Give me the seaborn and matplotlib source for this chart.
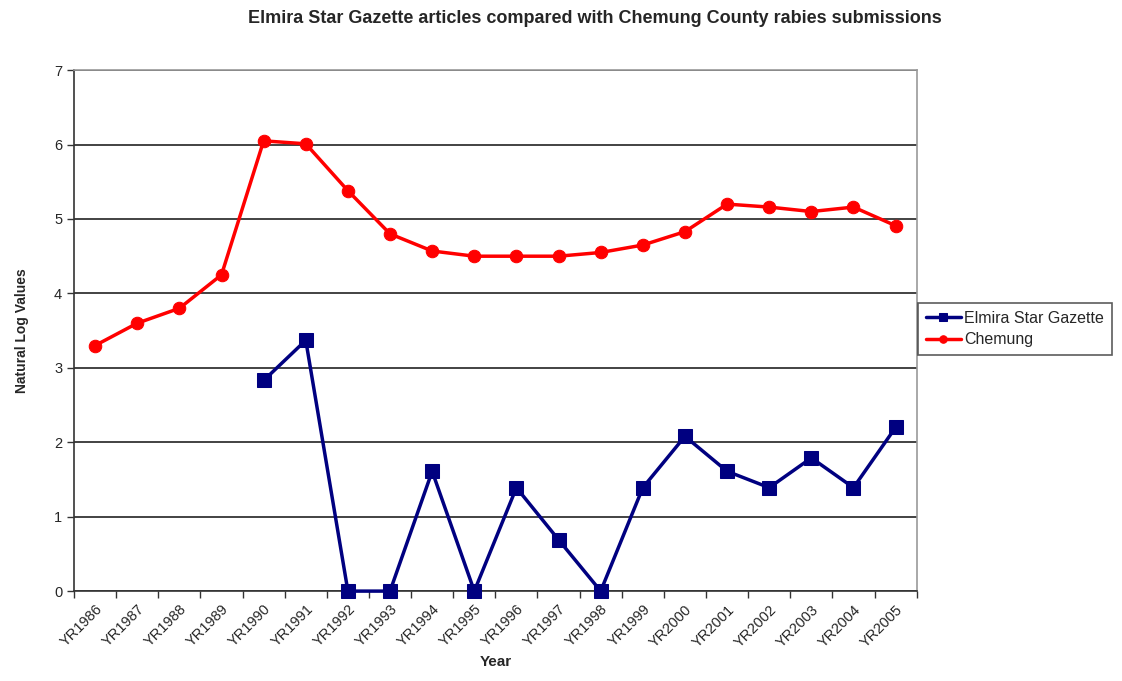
import numpy as np
import pandas as pd
import matplotlib
matplotlib.use('Agg')
import matplotlib.pyplot as plt
import seaborn as sns

# data
years = ['YR1986', 'YR1987', 'YR1988', 'YR1989', 'YR1990', 'YR1991', 'YR1992',
         'YR1993', 'YR1994', 'YR1995', 'YR1996', 'YR1997', 'YR1998', 'YR1999',
         'YR2000', 'YR2001', 'YR2002', 'YR2003', 'YR2004', 'YR2005']
elmira = [np.nan, np.nan, np.nan, np.nan, 2.83, 3.37, 0.0, 0.0, 1.61, 0.0,
          1.39, 0.69, 0.0, 1.39, 2.08, 1.61, 1.39, 1.79, 1.39, 2.20]
chemung = [3.30, 3.60, 3.80, 4.25, 6.05, 6.01, 5.38, 4.80, 4.57, 4.50,
           4.50, 4.50, 4.55, 4.65, 4.83, 5.20, 5.16, 5.10, 5.16, 4.91]

sns.set_style('white')
plt.rcParams['font.family'] = ['Liberation Sans', 'DejaVu Sans']

df = pd.DataFrame({'pos': np.arange(len(years)), 'Year': years,
                   'Elmira Star Gazette': elmira, 'Chemung': chemung})

fig = plt.figure(figsize=(11.22, 6.81), dpi=100)
ax = fig.add_axes([0.066, 0.132, 0.751, 0.765])

sns.lineplot(data=df, x='pos', y='Elmira Star Gazette', ax=ax, color='#000080',
             marker='s', markersize=10, linewidth=2.5, markeredgecolor='#000080',
             label='Elmira Star Gazette', clip_on=False, zorder=4)
sns.lineplot(data=df, x='pos', y='Chemung', ax=ax, color='#FF0000',
             marker='o', markersize=9, linewidth=2.5, markeredgecolor='#FF0000',
             label='Chemung', clip_on=False, zorder=4)

ax.set_xlim(-0.5, len(years) - 0.5)
ax.set_ylim(0, 7)
ax.set_yticks(range(0, 8))
ax.yaxis.grid(True, color='#222222', linewidth=1.2)
ax.set_axisbelow(True)

ax.set_xticks(np.arange(len(years)))
ax.set_xticklabels(years, rotation=45, ha='right', rotation_mode='anchor', fontsize=10.5)
ax.set_xticks(np.arange(len(years) + 1) - 0.5, minor=True)
ax.tick_params(axis='x', which='major', length=0, pad=8)
ax.tick_params(axis='x', which='minor', length=5, width=1, color='#333333', direction='out')
ax.tick_params(axis='y', length=5, width=1, color='#333333', direction='out', labelsize=10.5)
ax.tick_params(bottom=True, left=True, which='both')

for s in ['left', 'bottom']:
    ax.spines[s].set_color('#333333')
    ax.spines[s].set_linewidth(1.2)
for s in ['top', 'right']:
    ax.spines[s].set_color('#999999')
    ax.spines[s].set_linewidth(1.2)

ax.set_xlabel('Year', fontsize=11, fontweight='bold', labelpad=4)
ax.set_ylabel('Natural Log Values', fontsize=10, fontweight='bold', labelpad=18)
fig.suptitle('Elmira Star Gazette articles compared with Chemung County rabies submissions',
             x=0.53, y=0.985, fontsize=13, fontweight='bold')

ax.get_legend().remove()
handles, labels = ax.get_legend_handles_labels()
leg = fig.legend(handles, labels, loc='center left', bbox_to_anchor=(0.818, 0.517),
                 borderaxespad=0, frameon=True, fancybox=False, edgecolor='#333333',
                 fontsize=11.5, handlelength=2.2, handletextpad=0.2, borderpad=0.5,
                 labelspacing=0.4, markerscale=0.6)
leg.get_frame().set_linewidth(1.2)

fig.savefig('out.png', dpi=100, facecolor='white')
